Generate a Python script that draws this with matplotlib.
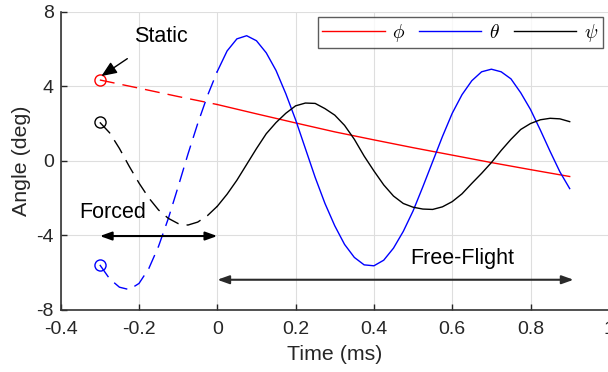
import numpy as np
import matplotlib
matplotlib.use('Agg')
import matplotlib.pyplot as plt

plt.rcParams['font.family'] = ['Liberation Sans', 'DejaVu Sans']
plt.rcParams['mathtext.fontset'] = 'cm'

# time base (ms), shared by theta and psi
time_ms = np.linspace(-0.3, 0.9, 49)

theta = [-5.6, -6.35, -6.8, -6.93, -6.6, -5.8, -4.6, -3.1, -1.4, 0.35,
         2.0, 3.5, 4.8, 5.9, 6.55, 6.72, 6.45, 5.8, 4.85, 3.6,
         2.2, 0.65, -0.9, -2.3, -3.5, -4.5, -5.2, -5.6, -5.65, -5.35,
         -4.7, -3.8, -2.7, -1.4, -0.05, 1.3, 2.55, 3.55, 4.3, 4.78,
         4.92, 4.78, 4.4, 3.65, 2.75, 1.65, 0.5, -0.6, -1.5]

psi = [2.06, 1.5, 0.66, -0.3, -1.2, -2.0, -2.65, -3.1, -3.38, -3.46,
       -3.3, -2.95, -2.45, -1.8, -1.05, -0.2, 0.65, 1.45, 2.05, 2.55,
       2.95, 3.1, 3.08, 2.8, 2.45, 1.9, 1.15, 0.25, -0.55, -1.3,
       -1.9, -2.3, -2.5, -2.6, -2.62, -2.48, -2.2, -1.78, -1.22, -0.68,
       -0.1, 0.55, 1.15, 1.68, 2.0, 2.2, 2.28, 2.25, 2.1]

phi_t = [-0.3, -0.2, -0.1, 0.0, 0.1, 0.2, 0.3, 0.4, 0.5, 0.6, 0.7, 0.8, 0.9]
phi = [4.34, 3.9, 3.45, 3.02, 2.52, 2.03, 1.55, 1.12, 0.7, 0.3, -0.1, -0.48, -0.85]

series = [(phi_t, phi, 'r', r'$\phi$'),
          (time_ms, theta, 'b', r'$\theta$'),
          (time_ms, psi, 'k', r'$\psi$')]

fig = plt.figure(figsize=(6.08, 3.72), dpi=100)
ax = fig.add_axes([0.0998, 0.168, 0.9016, 0.80])

dash = (10.8, 5.8)
for t, y, c, lab in series:
    t = np.asarray(t)
    y = np.asarray(y)
    forced = t <= 0.0001
    free = t >= -0.0001
    ax.plot(t[forced], y[forced], color=c, lw=1.0, dashes=dash)
    ax.plot(t[free], y[free], color=c, lw=1.0, label=lab)
    ax.plot(t[0], y[0], 'o', mfc='none', mec=c, ms=8, mew=1.0)

ax.set_xlim(-0.4, 1.0)
ax.set_ylim(-8, 8)
ax.set_xticks([-0.4, -0.2, 0, 0.2, 0.4, 0.6, 0.8, 1.0])
ax.set_xticklabels(['-0.4', '-0.2', '0', '0.2', '0.4', '0.6', '0.8', '1'])
ax.set_yticks([-8, -4, 0, 4, 8])
ax.set_yticklabels(['-8', '-4', '0', '4', '8'])
ax.grid(True, color='#dedede', lw=0.8)
ax.set_axisbelow(True)
for s in ['top', 'right']:
    ax.spines[s].set_visible(False)
for s in ['left', 'bottom']:
    ax.spines[s].set_color('#333333')
    ax.spines[s].set_linewidth(1.2)
ax.tick_params(direction='in', length=4, width=1.0, colors='#262626',
               labelsize=14)
ax.tick_params(axis='x', pad=8)
ax.tick_params(axis='y', pad=5)
ax.set_xlabel('Time (ms)', fontsize=15.4, color='#262626', labelpad=5)
ax.set_ylabel('Angle (deg)', fontsize=15.4, color='#262626', labelpad=4)

leg = ax.legend(loc='upper right', bbox_to_anchor=(602.7 / 608, 1 - 16.7 / 372),
                bbox_transform=fig.transFigure, ncol=3, fontsize=14,
                handlelength=3.2, handletextpad=0.4, columnspacing=0.7,
                borderpad=0.25, borderaxespad=0, frameon=True, fancybox=False)
leg.get_frame().set_edgecolor('#333333')
leg.get_frame().set_linewidth(1.0)

# annotations
ax.annotate('Static', xy=(-0.296, 4.55), xytext=(-0.144, 6.7),
            fontsize=15.5, ha='center', va='center',
            arrowprops=dict(arrowstyle='-|>,head_length=0.6,head_width=0.25',
                            color='k', lw=1.0, shrinkA=12, shrinkB=0))
ax.annotate('', xy=(-0.3, -4.05), xytext=(0.0, -4.05),
            arrowprops=dict(arrowstyle='<|-|>,head_length=0.7,head_width=0.25',
                            color='k', lw=1.5, shrinkA=0, shrinkB=0))
ax.text(-0.268, -2.81, 'Forced', fontsize=15.5, ha='center', va='center')
ax.annotate('', xy=(0.0, -6.4), xytext=(0.91, -6.4),
            arrowprops=dict(arrowstyle='<|-|>,head_length=0.7,head_width=0.25',
                            color='#2a2a2a', lw=1.5, shrinkA=0, shrinkB=0))
ax.text(0.625, -5.28, 'Free-Flight', fontsize=15.5, ha='center', va='center')

fig.savefig('out.png', dpi=100)
